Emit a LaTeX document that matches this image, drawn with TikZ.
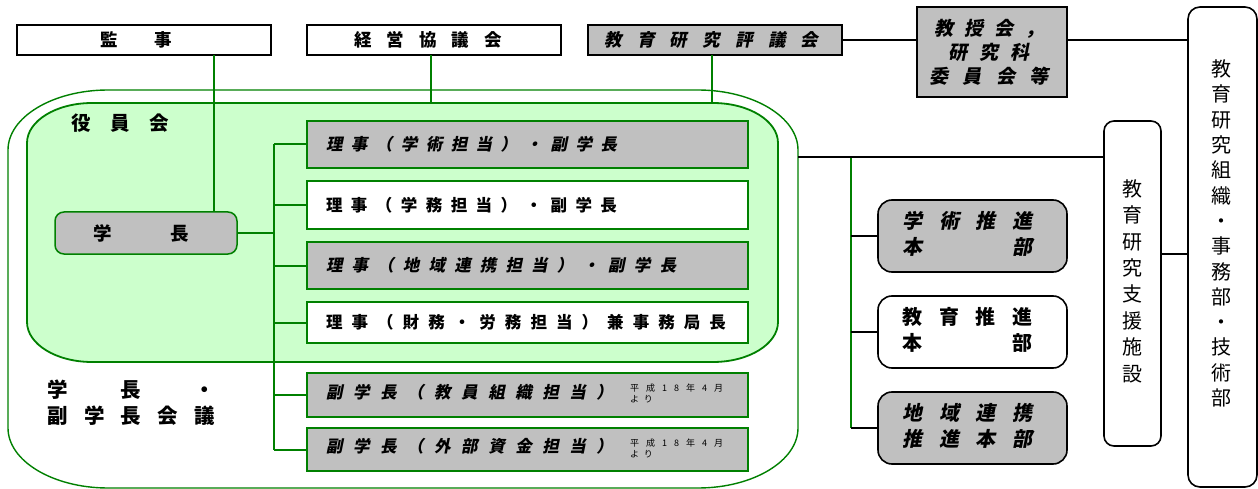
\documentclass[tikz,border=0pt]{standalone}
\usepackage{fontspec}
\newfontfamily\jpr{Noto Sans CJK JP}
\newfontfamily\jpb{Noto Sans CJK JP Black}
\newfontfamily\jpbi{Noto Sans CJK JP Black}[FakeSlant=0.2]
\definecolor{og}{RGB}{0,128,0}
\definecolor{lg}{RGB}{204,255,204}
\definecolor{gy}{RGB}{192,192,192}
\makeatletter
\def\dst@loop#1{\ifx#1\relax\else#1\expandafter\dst@next\fi}
\def\dst@next#1{\ifx#1\relax\else\hfil#1\expandafter\dst@next\fi}
\newcommand\dist[2]{\makebox[#1][s]{\dst@loop#2\relax}}
\makeatother
\begin{document}
\begin{tikzpicture}[x=1pt,y=-1pt,
  bx/.style={draw=black, line width=1.6pt, inner sep=0pt, outer sep=0pt},
  gb/.style={draw=og, line width=2pt, inner sep=0pt, outer sep=0pt},
  gl/.style={draw=og, line width=2pt},
  bl/.style={draw=black, line width=1.8pt},
  titlebox/.style={bx, minimum width=254pt, minimum height=30pt},
  branch/.style={gb, minimum width=441pt, text width=403pt, inner xsep=19pt, align=left},
  hqbox/.style={bx, rounded corners=14pt, minimum width=189pt, minimum height=72pt},
  fb/.style={font=\jpb\fontsize{#1}{#1}\selectfont},
  fi/.style={font=\jpbi\fontsize{#1}{#1}\selectfont}
]
\useasboundingbox (0,0) rectangle (1258,489);
% outer rounded shape (学長・副学長会議)
\draw[draw=og, line width=1.4pt, fill=white]
  (108,90) -- (698,90) .. controls (753,90) and (798,117) .. (798,150)
  -- (798,428) .. controls (798,461) and (753,488) .. (698,488)
  -- (108,488) .. controls (53,488) and (8,461) .. (8,428)
  -- (8,150) .. controls (8,117) and (53,90) .. (108,90) -- cycle;
% inner rounded shape (役員会)
\draw[draw=og, line width=1.8pt, fill=lg]
  (92,103) -- (713,103) .. controls (749,103) and (778,121) .. (778,143)
  -- (778,322) .. controls (778,344) and (749,362) .. (713,362)
  -- (92,362) .. controls (56,362) and (27,344) .. (27,322)
  -- (27,143) .. controls (27,121) and (56,103) .. (92,103) -- cycle;
\coordinate (innerTop) at (0,103);
\coordinate (outR) at (798,157);
\coordinate (trunk) at (274,0);
\coordinate (rtrunk) at (851,0);

% top boxes
\node[titlebox, fill=white, fb=17.5] (kanji) at (144,40) {\dist{72pt}{監事}\kern16pt};
\node[titlebox, fill=white, fb=17.5] (keiei) at (434,40) {\dist{148pt}{経営協議会}\kern12pt};
\node[titlebox, fill=gy, fi=17.5] (hyogi) at (715,40) {\dist{214pt}{教育研究評議会}\kern7pt};
\node[bx, fill=gy, minimum width=150pt, minimum height=90pt, font=\jpbi\fontsize{19}{24}\selectfont] (kyoju) at (992,52)
  {\begin{tabular}{@{}c@{}}\rule{0pt}{22pt}\dist{110pt}{教授会，}\\\dist{82pt}{研究科}\\\dist{119pt}{委員会等}\end{tabular}\kern6pt};

% right tall boxes
\node[bx, fill=white, rounded corners=12pt, minimum width=69pt, minimum height=480pt] (soshiki) at (1222.5,247) {};
\node[inner sep=0pt, font=\jpr\fontsize{20}{25.3}\selectfont] (soshikiT) at (1221,236)
  {\begin{tabular}{@{}c@{}}教\\育\\研\\究\\組\\織\\・\\事\\務\\部\\・\\技\\術\\部\end{tabular}};
\node[bx, fill=white, rounded corners=10pt, minimum width=57pt, minimum height=325pt, font=\jpr\fontsize{20}{26.4}\selectfont] (shien) at (1132.5,283.5)
  {\begin{tabular}{@{}c@{}}教\\育\\研\\究\\支\\援\\施\\設\end{tabular}};

% headquarters boxes
\node[hqbox, fill=gy, font=\jpbi\fontsize{20}{26}\selectfont] (h1) at (972.5,236)
  {\begin{tabular}{@{}c@{}}\dist{130pt}{学術推進}\\\dist{130pt}{本部}\end{tabular}\kern10pt};
\node[hqbox, fill=white, font=\jpb\fontsize{20}{26}\selectfont] (h2) at (972.5,332)
  {\begin{tabular}{@{}c@{}}\dist{130pt}{教育推進}\\\dist{130pt}{本部}\end{tabular}\kern10pt};
\node[hqbox, fill=gy, font=\jpbi\fontsize{20}{26}\selectfont] (h3) at (972.5,428)
  {\begin{tabular}{@{}c@{}}\dist{130pt}{地域連携}\\\dist{130pt}{推進本部}\end{tabular}\kern10pt};

% labels
\node[inner sep=0pt, fb=19.5] (yakuin) at (120,123) {\dist{98pt}{役員会}};
\node[inner sep=0pt, anchor=west, font=\jpb\fontsize{20.5}{26}\selectfont] (kaigi) at (47,405)
  {\begin{tabular}{@{}l@{}}\dist{168pt}{学長・}\\\dist{168pt}{副学長会議}\end{tabular}};

% president
\node[gb, line width=1.5pt, fill=gy, rounded corners=9pt, minimum width=182pt, minimum height=42pt, fb=18.5] (gakucho) at (146,233)
  {\dist{96pt}{学長}\kern10pt};

% branch boxes
\node[branch, fill=gy, minimum height=47pt, fi=16.5] (r1) at (527.5,144.5) {\dist{291pt}{理事（学術担当）・副学長}};
\node[branch, fill=white, minimum height=48pt, fb=16.5] (r2) at (527.5,205) {\dist{291pt}{理事（学務担当）・副学長}};
\node[branch, fill=gy, minimum height=47pt, fi=16.5] (r3) at (527.5,265.5) {\dist{350pt}{理事（地域連携担当）・副学長}};
\node[branch, fill=white, minimum height=41pt, fb=16.5] (r4) at (527.5,322.5) {\dist{400pt}{理事（財務・労務担当）兼事務局長}};
\node[branch, fill=gy, minimum height=44pt, fi=16.5] (f1) at (527.5,395)
  {\dist{287pt}{副学長（教員組織担当）}\kern17pt\raisebox{1pt}{\jpr\fontsize{9}{11}\selectfont\begin{tabular}{@{}l@{}}\dist{93pt}{平成18年4月}\\\dist{23pt}{より}\end{tabular}}};
\node[branch, fill=gy, minimum height=43pt, fi=16.5] (f2) at (527.5,449.5)
  {\dist{287pt}{副学長（外部資金担当）}\kern17pt\raisebox{1pt}{\jpr\fontsize{9}{11}\selectfont\begin{tabular}{@{}l@{}}\dist{93pt}{平成18年4月}\\\dist{23pt}{より}\end{tabular}}};

% green connectors
\draw[gl] (214,0 |- kanji.south) -- (214,0 |- gakucho.north);
\draw[gl] (431,0 |- keiei.south) -- (431,0 |- innerTop);
\draw[gl] (712,0 |- hyogi.south) -- (712,0 |- innerTop);
\draw[gl] (gakucho.east) -- (gakucho.east -| trunk);
\draw[gl] (trunk |- r1.west) -- (trunk |- f2.west);
\foreach \n in {r1,r2,r3,r4,f1,f2} \draw[gl] (trunk |- \n.west) -- (\n.west);
\draw[gl] (rtrunk |- outR) -- (rtrunk |- h3.west);

% black connectors
\draw[bl] (hyogi.east) -- (kyoju.west |- hyogi.east);
\draw[bl] (kyoju.east |- hyogi.east) -- (soshiki.west |- hyogi.east);
\draw[bl] (outR) -- (shien.west |- outR);
\draw[bl] (shien.east |- 0,254) -- (soshiki.west |- 0,254);
\foreach \n in {h1,h2,h3} \draw[bl] (rtrunk |- \n.west) -- (\n.west);
\end{tikzpicture}
\end{document}
